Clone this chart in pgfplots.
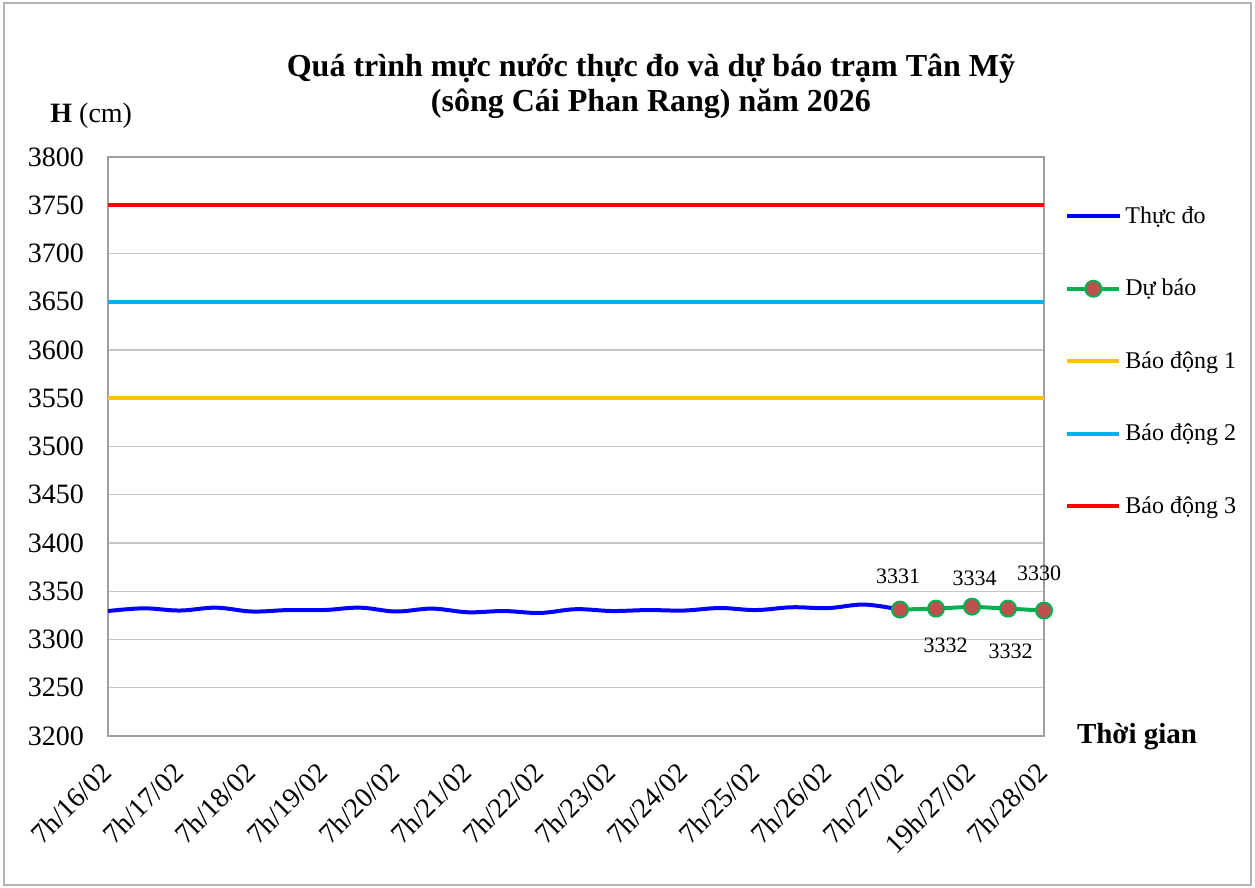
\documentclass[border=0pt]{standalone}
\usepackage{fontspec}
\setmainfont{Liberation Serif}
\usepackage{pgfplots}
\pgfplotsset{compat=1.18}
\definecolor{cBlue}{RGB}{0,0,255}
\definecolor{cGreen}{RGB}{0,176,80}
\definecolor{cMark}{RGB}{192,80,77}
\definecolor{cYellow}{RGB}{255,192,0}
\definecolor{cCyan}{RGB}{0,176,240}
\definecolor{cRed}{RGB}{255,0,0}
\begin{document}
\begin{tikzpicture}[x=1pt,y=1pt]
\useasboundingbox (0,0) rectangle (627.5,444);
\draw[gray!60, line width=0.8pt] (2,1.5) rectangle (625.5,442.5);
\begin{axis}[
  at={(54pt,76pt)}, anchor=south west,
  scale only axis, width=468pt, height=289.5pt,
  xmin=0, xmax=13, ymin=3200, ymax=3800,
  xtick={0,...,13},
  xticklabels={7h/16/02,7h/17/02,7h/18/02,7h/19/02,7h/20/02,7h/21/02,7h/22/02,7h/23/02,7h/24/02,7h/25/02,7h/26/02,7h/27/02,19h/27/02,7h/28/02},
  ytick={3200,3250,...,3800},
  ymajorgrids, grid style={gray!45, line width=0.6pt},
  axis line style={gray!75, line width=0.8pt},
  major tick length=0pt,
  /pgf/number format/1000 sep={},
  /pgf/number format/assume math mode=true,
  yticklabel style={font=\fontsize{14}{16}\selectfont, xshift=-8.5pt},
  xticklabel style={font=\fontsize{14}{16}\selectfont, rotate=45, anchor=east, xshift=-8.4pt, yshift=-10.7pt},
  legend style={at={(1.0224,0.9222)}, anchor=north west, draw=none, fill=none, inner sep=0pt,
    font=\fontsize{12}{14}\selectfont, row sep=22.4pt},
  legend cell align=left,
  legend image code/.code={\draw[mark repeat=2,mark phase=2,#1] plot coordinates {(0pt,0pt) (13pt,0pt) (26pt,0pt)};},
]
\addplot[cBlue, line width=2pt, smooth, tension=0.6] coordinates {
(0,3329.5) (0.5,3332.3) (1,3330) (1.5,3333) (2,3329) (2.5,3330.5) (3,3330.5) (3.5,3333)
(4,3329) (4.5,3332) (5,3328.2) (5.5,3329.5) (6,3327.5) (6.5,3331.4) (7,3329.5) (7.5,3330.5)
(8,3330) (8.5,3332.6) (9,3330.5) (9.5,3333.4) (10,3332.5) (10.5,3336.2) (11,3331)
};
\addlegendentry{Thực đo}
\addplot[cGreen, line width=2pt, mark=*, mark size=4pt, mark options={fill=cMark, draw=cGreen, line width=1pt}] coordinates {
(11,3331) (11.5,3332) (12,3334) (12.5,3332) (13,3330)
};
\addlegendentry{Dự báo}
\addplot[cYellow, line width=2pt] coordinates {(0,3550) (13,3550)};
\addlegendentry{Báo động 1}
\addplot[cCyan, line width=2pt] coordinates {(0,3650) (13,3650)};
\addlegendentry{Báo động 2}
\addplot[cRed, line width=2pt] coordinates {(0,3750) (13,3750)};
\addlegendentry{Báo động 3}
\addplot[forget plot, draw=none, mark=none, nodes near coords, point meta=explicit symbolic,
  visualization depends on={value \thisrow{dx}\as\dx},
  visualization depends on={value \thisrow{dy}\as\dy},
  every node near coord/.append style={anchor=center, xshift=\dx pt, yshift=\dy pt, font=\fontsize{11}{13}\selectfont, inner sep=0pt}]
  table[meta=lab] {
x y lab dx dy
11 3331 3331 -1 16.4
11.5 3332 3332 4.75 -18.5
12 3334 3334 1.25 14.3
12.5 3332 3332 1.25 -21.5
13 3330 3330 -2.5 18.6
};
\end{axis}
\node[anchor=base, font=\bfseries\fontsize{16}{19}\selectfont] at (325.5,405.5) {Quá trình mực nước thực đo và dự báo trạm Tân Mỹ};
\node[anchor=base, font=\bfseries\fontsize{16}{19}\selectfont] at (325.5,388) {(sông Cái Phan Rang) năm 2026};
\node[anchor=base west, inner sep=0pt, font=\fontsize{14}{16}\selectfont] at (25,382.5) {\textbf{H} (cm)};
\node[anchor=base west, inner sep=0pt, font=\bfseries\fontsize{14.5}{17}\selectfont] at (538.3,72) {Thời gian};
\end{tikzpicture}
\end{document}
